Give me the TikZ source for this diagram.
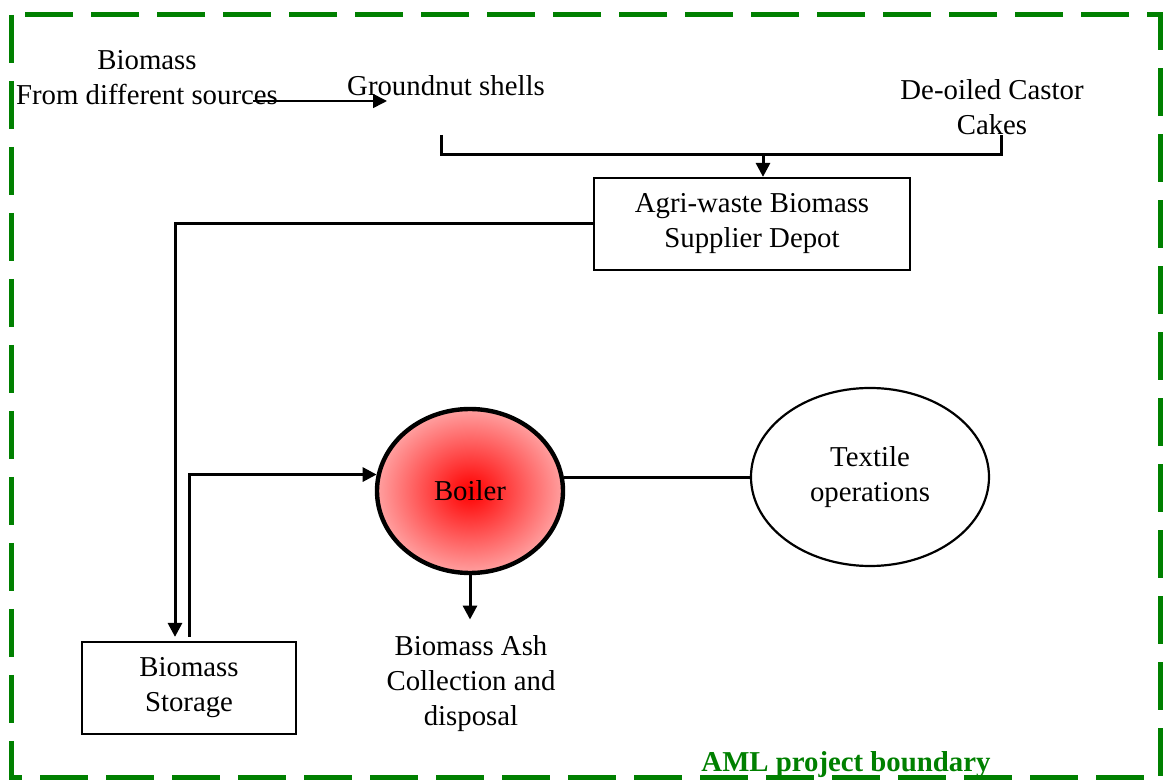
\documentclass[tikz,border=0pt]{standalone}
\usepackage{fontspec}
\setmainfont{Liberation Serif}
\usepackage{xcolor}
\usetikzlibrary{arrows.meta,shapes.geometric,positioning}
\definecolor{aml-green}{RGB}{0,128,0}
\definecolor{boiler-pink}{RGB}{255,160,160}
\tikzset{
    label-text/.style = {font=\fontsize{14.4}{17.5}\selectfont, align=center, inner sep=3pt},
    flow-box/.style = {label-text, draw, rectangle, line width=1.1pt},
    flow-line/.style = {line width=1.5pt},
    flow-arrow/.style = {flow-line, -{Triangle[length=7pt, width=7pt]}},
    boiler-ellipse/.style = {label-text, draw, ellipse, line width=2.2pt, inner color=red, outer color=boiler-pink, minimum width=93pt, minimum height=82pt},
    plain-ellipse/.style = {label-text, draw, ellipse, line width=1.1pt, minimum width=119pt, minimum height=89pt},
}
\begin{document}
\begin{tikzpicture}[x=0.5pt, y=-0.5pt]
\useasboundingbox (0,0) rectangle (1164,780);
% project boundary
\draw[aml-green, line width=2.5pt, dash pattern=on 24pt off 9pt] (11,15) rectangle (1160,778);
\node[label-text, font=\fontsize{14.4}{17.5}\selectfont\bfseries, text=aml-green] (boundary) at (846,765) {AML project boundary};

% biomass sources
\node[label-text] (sources) at (147,78) {Biomass\\From different sources};
\node[label-text] (groundnut) at (446,86) {Groundnut shells};
\node[label-text] (castor) at (992,107) {De-oiled Castor\\Cakes};
\coordinate (src-start) at (253,101);
\coordinate (src-end) at (387,101);
\draw[flow-arrow, line width=0.8pt] (src-start) -- (src-end);

% depot and storage
\node[flow-box, minimum width=158pt, minimum height=46pt] (depot) at (752,224) {Agri-waste Biomass\\Supplier Depot};
\node[flow-box, minimum width=107pt, minimum height=46pt] (storage) at (189,688) {Biomass\\Storage};
\coordinate (gn-drop) at (441,135);
\coordinate (castor-drop) at (1001,135);
\coordinate (merge) at (763,155);
\draw[flow-line] (gn-drop) |- (merge) -| (castor-drop);
\draw[flow-arrow] (merge) -- (merge |- depot.north);
\draw[flow-arrow] (depot.west) -| ([xshift=-7pt, yshift=2pt]storage.north);

% boiler and users
\node[boiler-ellipse] (boiler) at (470,491) {Boiler};
\node[plain-ellipse] (textile) at (870,477) {Textile\\operations};
\node[label-text] (ash) at (471,684) {Biomass Ash\\Collection and\\disposal};
\draw[flow-arrow] ([yshift=2pt]storage.north) |- (boiler.170);
\draw[flow-line] (boiler.8) -- (boiler.8 -| textile.west);
\draw[flow-arrow] (boiler.south) -- ([yshift=5pt]boiler.south |- ash.north);
\end{tikzpicture}
\end{document}
